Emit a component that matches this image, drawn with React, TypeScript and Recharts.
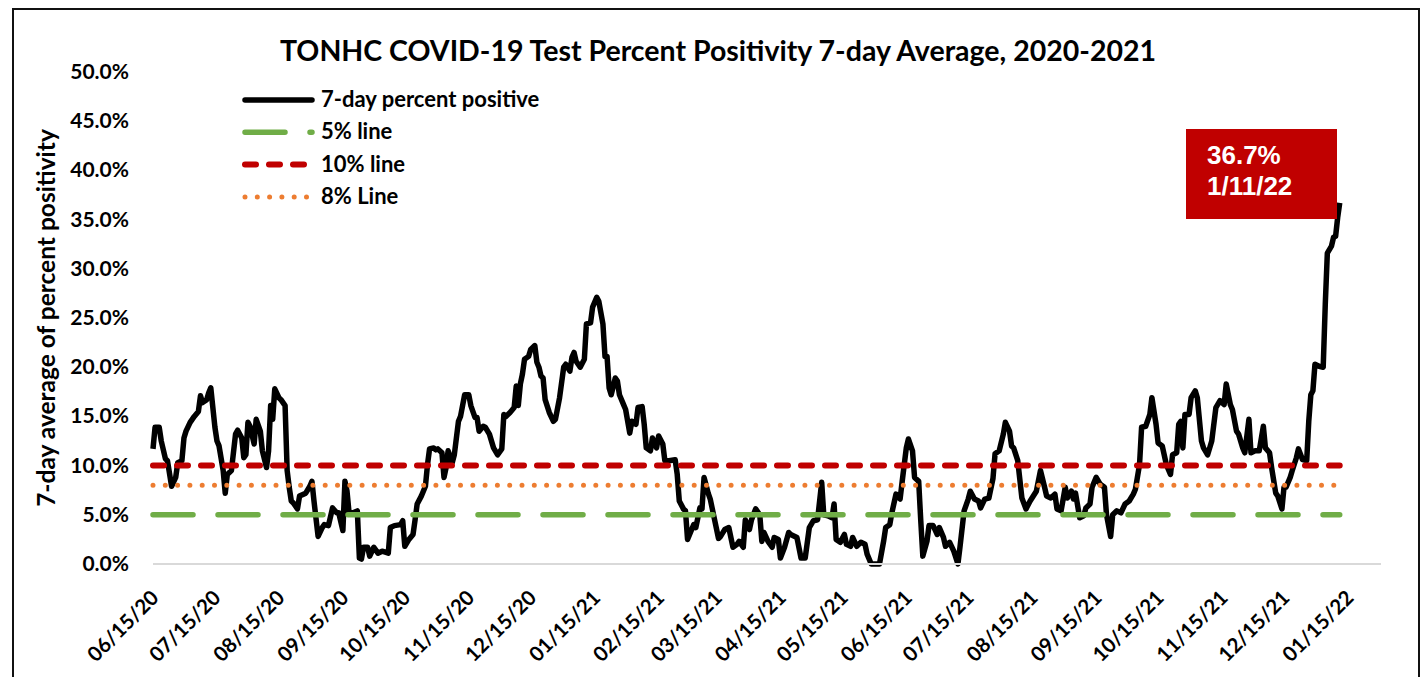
import React from "react"
import { LineChart, Line, XAxis, YAxis, ReferenceLine } from "recharts"

// days since 06/15/2020 and the 7-day positivity (%)
const dayOffset = [
  0, 1, 3, 4, 6, 7, 9, 11, 12, 14, 15, 16, 18, 20, 22, 23, 24, 26, 27, 28,
  30, 31, 32, 34, 35, 36, 38, 40, 41, 43, 44, 45, 46, 47, 49, 50, 52, 53, 55, 56,
  57, 58, 59, 61, 62, 64, 65, 66, 67, 68, 70, 71, 74, 76, 77, 78, 80, 82, 83, 85,
  87, 89, 90, 92, 93, 94, 95, 97, 99, 100, 101, 102, 104, 105, 107, 109, 111, 114, 115, 117,
  120, 121, 122, 124, 126, 127, 128, 130, 132, 133, 134, 136, 137, 138, 140, 141, 142, 143, 145, 146,
  148, 149, 151, 153, 154, 156, 157, 158, 160, 161, 163, 165, 167, 169, 170, 171, 173, 175, 176, 177,
  178, 179, 180, 182, 183, 185, 186, 187, 188, 189, 190, 192, 194, 195, 197, 199, 200, 202, 203, 204,
  205, 207, 209, 210, 212, 213, 215, 216, 218, 219, 220, 221, 222, 224, 225, 226, 228, 229, 231, 232,
  234, 235, 237, 238, 239, 241, 242, 244, 245, 247, 248, 250, 253, 254, 255, 257, 258, 259, 261, 262,
  263, 265, 266, 267, 269, 270, 272, 274, 275, 277, 279, 281, 283, 284, 286, 287, 289, 290, 292, 294,
  295, 296, 298, 300, 301, 303, 304, 306, 308, 309, 311, 312, 314, 316, 318, 320, 322, 324, 325, 327,
  329, 330, 331, 333, 335, 336, 338, 339, 341, 343, 345, 346, 348, 350, 352, 354, 355, 357, 358, 360,
  362, 363, 365, 366, 368, 369, 371, 372, 373, 375, 376, 378, 380, 381, 383, 384, 386, 388, 390, 391,
  393, 395, 396, 398, 400, 401, 403, 405, 407, 408, 410, 412, 413, 415, 416, 417, 419, 421, 423, 425,
  428, 430, 432, 433, 435, 437, 438, 440, 442, 443, 445, 446, 447, 449, 451, 452, 454, 455, 457, 459,
  461, 462, 464, 465, 467, 469, 471, 473, 475, 476, 478, 479, 481, 483, 484, 486, 487, 489, 491, 493,
  494, 496, 497, 498, 499, 500, 502, 503, 505, 506, 508, 509, 511, 513, 515, 517, 519, 520, 522, 523,
  525, 526, 528, 529, 531, 532, 534, 536, 538, 539, 541, 542, 544, 545, 547, 548, 549, 551, 552, 554,
  555, 557, 559, 560, 561, 562, 563, 565, 567, 568, 569, 571, 572, 573, 574, 575,
]

const positivity = [
  11.7, 13.9, 13.9, 12.5, 10.7, 10.5, 7.9, 8.8, 10.3, 10.5, 12.8, 13.5, 14.4, 15.0, 15.5, 17.1, 16.4, 16.7, 17.4, 17.9,
  13.9, 12.5, 12.0, 9.5, 7.2, 9.1, 9.5, 13.2, 13.6, 12.8, 10.8, 11.1, 14.4, 14.0, 12.2, 14.7, 13.5, 11.5, 9.8, 11.5,
  16.1, 14.7, 17.8, 16.9, 16.7, 16.1, 9.5, 7.8, 6.4, 6.2, 5.6, 6.9, 7.2, 7.9, 8.4, 6.4, 2.8, 3.7, 4.0, 3.9,
  5.7, 5.2, 5.2, 3.4, 8.4, 7.4, 5.2, 5.2, 5.4, 0.6, 0.5, 1.7, 1.7, 0.8, 1.7, 1.1, 1.3, 1.1, 3.7, 3.9,
  4.0, 4.4, 1.8, 2.5, 3.0, 4.5, 6.1, 6.9, 7.9, 10.1, 11.7, 11.8, 11.6, 11.7, 11.3, 8.8, 9.8, 11.5, 10.3, 11.1,
  14.5, 15.0, 17.2, 17.2, 16.1, 14.9, 14.9, 13.5, 14.0, 13.9, 13.2, 11.8, 11.1, 11.7, 15.2, 15.0, 15.4, 15.9, 18.1, 16.1,
  18.3, 19.3, 20.8, 21.1, 21.8, 22.2, 20.5, 20.0, 19.1, 18.9, 16.7, 15.4, 14.5, 14.7, 16.9, 20.0, 20.3, 19.6, 21.0, 21.5,
  20.6, 20.0, 20.8, 24.4, 24.5, 26.1, 27.1, 26.7, 24.4, 21.1, 21.1, 17.9, 17.2, 18.9, 18.6, 17.2, 16.2, 15.7, 13.3, 14.5,
  14.2, 15.9, 16.0, 14.2, 11.8, 11.5, 12.8, 11.8, 13.0, 12.2, 10.5, 10.5, 10.6, 9.1, 6.4, 5.6, 5.4, 2.5, 3.5, 4.0,
  3.7, 5.7, 5.6, 8.8, 7.2, 6.6, 4.6, 2.6, 2.8, 3.5, 3.7, 1.7, 2.0, 2.3, 1.7, 4.5, 3.5, 4.5, 5.6, 5.0,
  2.3, 3.2, 2.3, 1.7, 2.7, 2.5, 0.6, 1.7, 3.2, 3.0, 2.8, 2.7, 0.6, 0.6, 3.7, 4.4, 4.5, 8.3, 5.0, 4.9,
  4.7, 6.1, 2.5, 2.2, 3.0, 2.0, 1.8, 2.7, 1.8, 2.2, 2.0, 1.0, 0.0, 0.0, 0.0, 2.3, 3.7, 4.0, 5.2, 7.1,
  6.6, 8.4, 11.8, 12.7, 11.5, 8.8, 8.4, 4.4, 0.8, 2.3, 3.9, 3.9, 3.0, 3.7, 2.7, 1.8, 2.2, 1.3, 0.0, 1.7,
  5.4, 6.6, 7.4, 6.6, 6.4, 5.7, 6.6, 6.7, 8.7, 11.2, 11.5, 13.2, 14.4, 13.5, 12.0, 11.8, 10.5, 6.7, 5.6, 6.4,
  7.4, 9.5, 7.8, 6.9, 6.7, 7.1, 5.6, 5.4, 7.8, 6.7, 7.4, 6.6, 7.2, 4.7, 4.9, 5.7, 6.1, 7.8, 8.8, 8.1,
  7.8, 5.0, 2.8, 5.0, 5.4, 5.2, 6.1, 6.4, 7.1, 7.6, 10.1, 13.9, 14.0, 15.2, 16.9, 14.2, 12.3, 12.0, 10.1, 9.1,
  11.1, 11.3, 14.2, 14.5, 11.8, 15.2, 15.2, 16.9, 17.6, 16.9, 12.5, 11.8, 11.1, 12.5, 15.9, 16.6, 16.2, 18.3, 16.2, 15.7,
  13.5, 13.2, 11.8, 11.3, 14.7, 11.3, 11.5, 11.5, 14.0, 11.8, 11.3, 9.8, 7.2, 6.9, 5.6, 7.8, 7.8, 8.8, 9.5, 10.8,
  11.7, 10.6, 10.5, 14.5, 17.2, 17.6, 20.3, 20.1, 20.0, 26.4, 31.6, 32.3, 33.2, 33.3, 35.2, 36.7,
]

const tickDays = [0, 30, 61, 92, 122, 153, 183, 214, 245, 273, 304, 334, 365, 395, 426, 457, 487, 518, 548, 579]
const tickLabels = [
  "06/15/20", "07/15/20", "08/15/20", "09/15/20", "10/15/20", "11/15/20", "12/15/20",
  "01/15/21", "02/15/21", "03/15/21", "04/15/21", "05/15/21", "06/15/21", "07/15/21",
  "08/15/21", "09/15/21", "10/15/21", "11/15/21", "12/15/21", "01/15/22",
]
const yTicks = [0, 5, 10, 15, 20, 25, 30, 35, 40, 45, 50]

const lastDay = 575
const thresholds = [
  { name: "5% line", value: 5, color: "#70AD47", width: 5.5, dash: "40 25" },
  { name: "10% line", value: 10, color: "#C00000", width: 6, dash: "11 13" },
  { name: "8% Line", value: 8, color: "#ED7D31", width: 5, dash: "0 12.3" },
]

const font = "Lato, 'Open Sans', sans-serif"

const data = dayOffset.map((d, i) => ({ day: d, pct: positivity[i] }))

const XTick = ({ x, y, payload }: any) => {
  const i = tickDays.indexOf(payload.value)
  const ax = x + 7
  const ay = y + 35
  return (
    <text x={ax} y={ay} transform={`rotate(-45, ${ax}, ${ay})`} textAnchor="end"
      fontFamily={font} fontWeight={700} fontSize={20.5} fill="#000">
      {tickLabels[i]}
    </text>
  )
}

const YTick = ({ x, y, payload }: any) => (
  <text x={x} y={y} dy={7} textAnchor="end" fontFamily={font} fontWeight={700} fontSize={21} fill="#000">
    {payload.value.toFixed(1) + "%"}
  </text>
)

export default function App() {
  const legendRows = [
    { name: "7-day percent positive", color: "#000", width: 5.5, dash: undefined as string | undefined },
    ...thresholds,
  ]
  return (
    <div style={{ position: "absolute", left: 0, top: 0, width: 1421, height: 677, background: "#fff", overflow: "hidden" }}>
      <div style={{ position: "absolute", left: 12, top: 8, width: 1408, height: 700, border: "2px solid #111", boxSizing: "border-box" }} />
      <LineChart width={1421} height={677} data={data} margin={{ top: 72, right: 40, bottom: 0, left: 0 }}>
        <XAxis
          type="number"
          dataKey="day"
          domain={[0, 595]}
          ticks={tickDays}
          interval={0}
          height={113}
          tickLine={false}
          tickSize={0}
          tickMargin={0}
          axisLine={{ stroke: "#D9D9D9", strokeWidth: 2 }}
          tick={<XTick />}
        />
        <YAxis
          type="number"
          domain={[0, 50]}
          ticks={yTicks}
          interval={0}
          width={153}
          axisLine={false}
          tickLine={false}
          tickSize={0}
          tickMargin={24}
          tick={<YTick />}
        />
        <Line
          type="linear"
          dataKey="pct"
          stroke="#000"
          strokeWidth={5.5}
          strokeLinejoin="round"
          dot={false}
          isAnimationActive={false}
        />
        {thresholds.map(t => (
          <ReferenceLine
            key={t.name}
            segment={[{ x: 0, y: t.value }, { x: lastDay, y: t.value }]}
            stroke={t.color}
            strokeWidth={t.width}
            strokeDasharray={t.dash}
            strokeLinecap="round"
          />
        ))}
      </LineChart>
      <svg width={1421} height={677} style={{ position: "absolute", left: 0, top: 0, pointerEvents: "none" }}>
        <text x={718} y={61} textAnchor="middle" fontFamily={font} fontWeight={700} fontSize={28.5} fill="#000">
          TONHC COVID-19 Test Percent Positivity 7-day Average, 2020-2021
        </text>
        <text x={55} y={318} transform="rotate(-90, 55, 318)" textAnchor="middle"
          fontFamily={font} fontWeight={700} fontSize={24.5} fill="#000">
          7-day average of percent positivity
        </text>
        {legendRows.map((r, i) => {
          const cy = 100 + i * 32.3
          return (
            <g key={r.name}>
              <line x1={245} x2={312} y1={cy} y2={cy} stroke={r.color} strokeWidth={r.width}
                strokeDasharray={r.dash} strokeLinecap="round" />
              <text x={321} y={cy + 7} fontFamily={font} fontWeight={700} fontSize={22} fill="#000">{r.name}</text>
            </g>
          )
        })}
        <rect x={1186} y={129} width={151} height={90} fill="#C00000" />
        <text x={1207} y={164} fontFamily="'Liberation Sans', Arial, sans-serif" fontWeight={700} fontSize={26} fill="#fff">36.7%</text>
        <text x={1207} y={195} fontFamily="'Liberation Sans', Arial, sans-serif" fontWeight={700} fontSize={26} fill="#fff">1/11/22</text>
      </svg>
    </div>
  )
}
